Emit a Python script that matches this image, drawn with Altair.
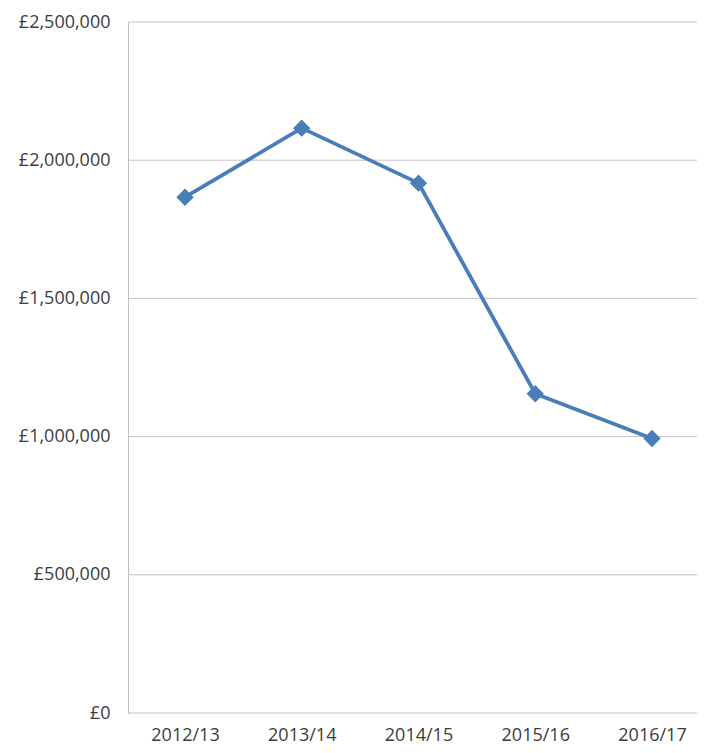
import altair as alt
import pandas as pd

years = ["2012/13", "2013/14", "2014/15", "2015/16", "2016/17"]
values = [1866000, 2116000, 1917000, 1155000, 993000]
grid_values = [0, 500000, 1000000, 1500000, 2000000, 2500000]

df = pd.DataFrame({"year": years, "value": values})
gdf = pd.DataFrame({"value": grid_values})

FONT = "Open Sans"
BLUE = "#4a7ebb"
W, H = 569, 691

x = alt.X("year:N", sort=years, title=None,
          scale=alt.Scale(type="point", range=[57, 524], padding=0),
          axis=alt.Axis(labelAngle=0, labelFont=FONT, labelFontSize=18,
                        labelColor="#3c3c3c", ticks=False, domain=False,
                        labelPadding=13, grid=False))
yscale = alt.Scale(domain=[0, 2500000], nice=False)
y = alt.Y("value:Q", title=None, scale=yscale,
          axis=alt.Axis(values=grid_values,
                        labelExpr="'£' + format(datum.value, ',')",
                        labelFont=FONT, labelFontSize=18, labelColor="#3c3c3c",
                        ticks=False, domain=True, domainColor="#bfbfbf",
                        grid=False, labelPadding=18))

grid = alt.Chart(gdf).mark_rule(color="#c4c4c4", strokeWidth=1).encode(
    y=alt.Y("value:Q", scale=yscale, title=None),
    x=alt.value(0), x2=alt.value(W))
line = alt.Chart(df).mark_line(color=BLUE, strokeWidth=3.8).encode(x=x, y=y)
pts = alt.Chart(df).mark_point(shape="diamond", filled=True, size=300,
                               color=BLUE, opacity=1).encode(x=x, y=y)

chart = (grid + line + pts).properties(
    width=W, height=H,
    autosize=alt.AutoSizeParams(type="none"),
    padding={"left": 120, "top": 14, "right": 0, "bottom": 32},
).configure_view(stroke=None)

chart.save("out.html", embed_options={"renderer": "svg", "actions": False})
